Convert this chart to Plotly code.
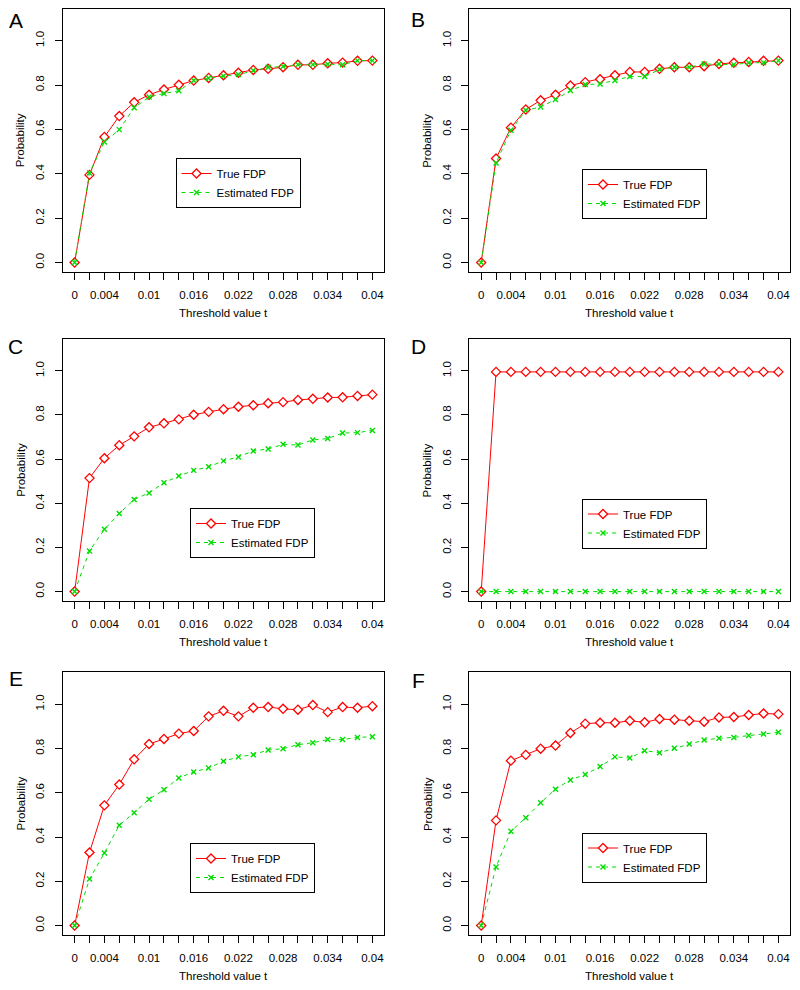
import plotly.graph_objects as go

# ---------------- data ----------------
t_values = [0.000, 0.002, 0.004, 0.006, 0.008, 0.010, 0.012, 0.014, 0.016, 0.018,
            0.020, 0.022, 0.024, 0.026, 0.028, 0.030, 0.032, 0.034, 0.036, 0.038, 0.040]
x_tick_text = ["0", "", "0.004", "", "", "0.01", "", "", "0.016", "", "",
               "0.022", "", "", "0.028", "", "", "0.034", "", "", "0.04"]
y_tick_vals = [0.0, 0.2, 0.4, 0.6, 0.8, 1.0]
y_tick_text = ["0.0", "0.2", "0.4", "0.6", "0.8", "1.0"]
panel_letters = ["A", "B", "C", "D", "E", "F"]
series_names = ["True FDP", "Estimated FDP"]

true_A = [0, 0.395, 0.566, 0.660, 0.722, 0.756, 0.780, 0.801, 0.820, 0.832, 0.844,
          0.855, 0.868, 0.873, 0.880, 0.891, 0.891, 0.898, 0.901, 0.909, 0.910]
est_A = [0, 0.404, 0.543, 0.599, 0.698, 0.746, 0.762, 0.774, 0.820, 0.831, 0.841,
         0.847, 0.865, 0.880, 0.883, 0.892, 0.892, 0.894, 0.891, 0.910, 0.910]

true_B = [0, 0.469, 0.608, 0.690, 0.731, 0.756, 0.798, 0.813, 0.826, 0.844, 0.859,
          0.859, 0.873, 0.880, 0.880, 0.885, 0.895, 0.900, 0.904, 0.909, 0.910]
est_B = [0, 0.449, 0.596, 0.686, 0.701, 0.735, 0.775, 0.802, 0.805, 0.820, 0.838,
         0.838, 0.870, 0.880, 0.880, 0.895, 0.895, 0.892, 0.900, 0.901, 0.910]

true_C = [0, 0.514, 0.604, 0.663, 0.703, 0.744, 0.762, 0.780, 0.801, 0.814, 0.826,
          0.837, 0.844, 0.853, 0.858, 0.868, 0.873, 0.879, 0.880, 0.886, 0.892]
est_C = [0, 0.184, 0.282, 0.354, 0.417, 0.447, 0.493, 0.523, 0.549, 0.565, 0.592,
         0.610, 0.637, 0.646, 0.667, 0.664, 0.687, 0.693, 0.718, 0.720, 0.730]

true_D = [0, 0.995, 0.995, 0.995, 0.995, 0.995, 0.995, 0.995, 0.995, 0.995, 0.995,
          0.995, 0.995, 0.995, 0.995, 0.995, 0.995, 0.995, 0.995, 0.995, 0.995]
est_D = [0, 0, 0, 0, 0, 0, 0, 0, 0, 0, 0, 0, 0, 0, 0, 0, 0, 0, 0, 0, 0]

true_E = [0, 0.330, 0.543, 0.637, 0.751, 0.820, 0.843, 0.867, 0.879, 0.945, 0.970,
          0.945, 0.984, 0.987, 0.979, 0.975, 0.996, 0.964, 0.987, 0.984, 0.991]
est_E = [0, 0.210, 0.328, 0.453, 0.510, 0.571, 0.613, 0.667, 0.694, 0.712, 0.742,
         0.762, 0.772, 0.793, 0.799, 0.817, 0.826, 0.840, 0.840, 0.850, 0.853]

true_F = [0, 0.475, 0.745, 0.771, 0.799, 0.813, 0.870, 0.912, 0.916, 0.916, 0.925,
          0.918, 0.933, 0.930, 0.925, 0.921, 0.940, 0.942, 0.951, 0.958, 0.955]
est_F = [0, 0.265, 0.426, 0.487, 0.555, 0.616, 0.658, 0.682, 0.718, 0.762, 0.757,
         0.790, 0.781, 0.801, 0.820, 0.838, 0.846, 0.850, 0.858, 0.865, 0.873]

true_series = [true_A, true_B, true_C, true_D, true_E, true_F]
est_series = [est_A, est_B, est_C, est_D, est_E, est_F]

# ---------------- layout geometry (pixels) ----------------
W, H = 800, 990
col_px = [(62.7, 384.3), (469.3, 790.3)]
row_px = [(8.7, 272.3), (339.0, 601.3), (672.3, 935.3)]
legend_px = [(175.5, 158.0), (582.0, 169.0), (190.0, 508.0),
             (582.0, 498.5), (190.0, 843.0), (582.0, 832.5)]
letter_px = [(15.5, 20), (418.5, 19), (15.5, 346), (418.5, 346), (15.5, 678), (418.5, 680)]

RED = "#FF0000"
GREEN = "#00DD00"
FONT = "Liberation Sans, Arial, Helvetica, sans-serif"
FS = 11.5

fig = go.Figure()
layout = dict(
    width=W, height=H, margin=dict(l=0, r=0, t=0, b=0),
    paper_bgcolor="white", plot_bgcolor="white",
    font=dict(family=FONT, size=FS, color="black"),
    showlegend=True,
)
annotations = []

for k in range(6):
    r, c = divmod(k, 2)
    suffix = "" if k == 0 else str(k + 1)
    xa, ya = "x" + suffix, "y" + suffix
    leg = "legend" + suffix
    x0, x1 = col_px[c]
    top, bot = row_px[r]

    fig.add_trace(go.Scatter(
        x=t_values, y=true_series[k], mode="lines+markers", name=series_names[0],
        xaxis=xa, yaxis=ya, legend=leg, cliponaxis=False,
        line=dict(color=RED, width=1),
        marker=dict(symbol="diamond", size=7, color="white",
                    line=dict(color=RED, width=1.3)),
    ))
    fig.add_trace(go.Scatter(
        x=t_values, y=est_series[k], mode="lines+markers", name=series_names[1],
        xaxis=xa, yaxis=ya, legend=leg, cliponaxis=False,
        line=dict(color=GREEN, width=1, dash="4px,4px"),
        marker=dict(symbol="x-thin-open", size=5, color=GREEN,
                    line=dict(color=GREEN, width=1.4)),
    ))

    layout["xaxis" + suffix] = dict(
        domain=[x0 / W, x1 / W], anchor=ya, range=[-0.0016, 0.0416],
        tickmode="array", tickvals=t_values, ticktext=x_tick_text,
        ticks="outside", ticklen=7, tickwidth=1, tickcolor="black",
        showline=True, linecolor="black", linewidth=1, mirror=True,
        showgrid=False, zeroline=False, tickfont=dict(size=FS),
        ticklabelstandoff=5,
    )
    layout["yaxis" + suffix] = dict(
        domain=[1 - bot / H, 1 - top / H], anchor=xa, range=[-0.044, 1.144],
        tickmode="array", tickvals=y_tick_vals, ticktext=y_tick_text,
        ticks="outside", ticklen=7, tickwidth=1, tickcolor="black",
        showline=True, linecolor="black", linewidth=1, mirror=True,
        showgrid=False, zeroline=False, tickangle=-90, tickfont=dict(size=FS),
        ticklabelstandoff=6,
    )
    lx, ly = legend_px[k]
    layout[leg] = dict(
        x=lx / W, y=1 - ly / H, xanchor="left", yanchor="top",
        bgcolor="white", bordercolor="black", borderwidth=1,
        font=dict(size=FS, family=FONT), tracegroupgap=0,
    )
    # axis titles and panel letter
    annotations.append(dict(
        text="Threshold value t", xref="paper", yref="paper",
        x=(x0 + x1) / 2 / W, y=1 - (bot + 41) / H, showarrow=False,
        xanchor="center", yanchor="middle", font=dict(size=FS)))
    annotations.append(dict(
        text="Probability", xref="paper", yref="paper", textangle=-90,
        x=(x0 - 42) / W, y=1 - (top + bot) / 2 / H, showarrow=False,
        xanchor="center", yanchor="middle", font=dict(size=FS)))
    px, py = letter_px[k]
    annotations.append(dict(
        text=panel_letters[k], xref="paper", yref="paper",
        x=px / W, y=1 - py / H, showarrow=False,
        xanchor="center", yanchor="middle", font=dict(size=21)))

layout["annotations"] = annotations
fig.update_layout(**layout)
fig.write_html("out.html", config={"displayModeBar": False},
               post_script="document.body.style.margin='0';document.body.style.padding='0';")
